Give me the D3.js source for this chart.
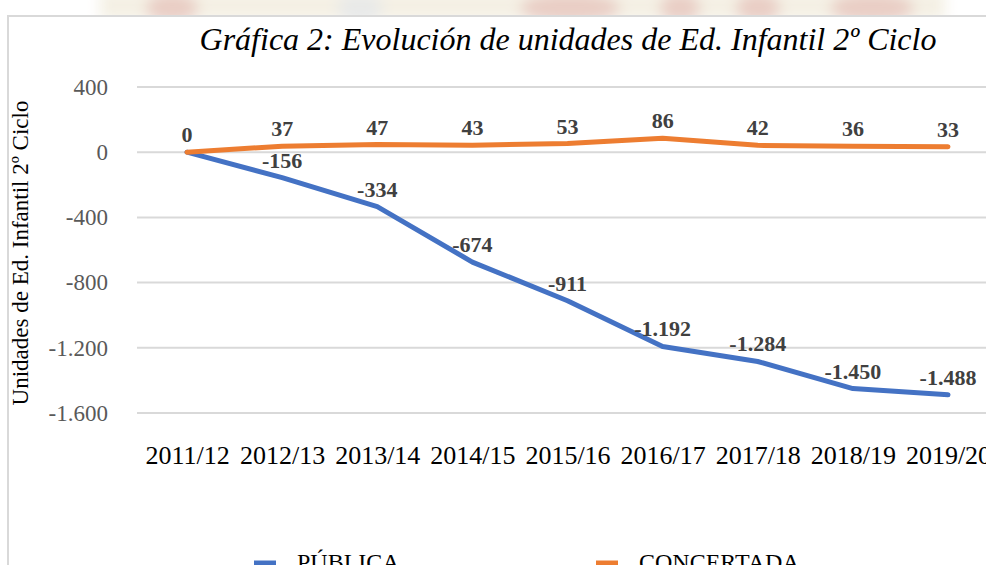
<!DOCTYPE html>
<html>
<head>
<meta charset="utf-8">
<script src="https://cdn.jsdelivr.net/npm/d3@7"></script>
<style>
  body { margin: 0; background: #fff; }
  svg { display: block; }
</style>
</head>
<body>
<div id="chart"></div>
<script>
// data
const courses = ["2011/12", "2012/13", "2013/14", "2014/15", "2015/16", "2016/17", "2017/18", "2018/19", "2019/20"];
const publica = [0, -156, -334, -674, -911, -1192, -1284, -1450, -1488];
const concertada = [0, 37, 47, 43, 53, 86, 42, 36, 33];
const yTicks = [400, 0, -400, -800, -1200, -1600];
const seriesNames = ["PÚBLICA", "CONCERTADA"];
const seriesColors = ["#4472C4", "#ED7D31"];

const width = 986, height = 565;
const serif = "'Liberation Serif', 'Times New Roman', serif";

const svg = d3.select("#chart").append("svg")
    .attr("width", width)
    .attr("height", height);

// faint watermark band above the chart frame
const defs = svg.append("defs");
const blur = defs.append("filter").attr("id", "blur")
    .attr("x", "-50%").attr("y", "-100%").attr("width", "200%").attr("height", "300%");
blur.append("feGaussianBlur").attr("stdDeviation", 7);
const band = svg.append("g").attr("filter", "url(#blur)");
band.append("rect").attr("x", 100).attr("y", -10).attr("width", 845).attr("height", 30).attr("fill", "#f4f0e4");
const blobs = [[172, 26], [570, 50], [680, 20], [758, 22], [872, 42]];
blobs.forEach(([cx, rx]) => {
    band.append("ellipse").attr("cx", cx).attr("cy", 8).attr("rx", rx).attr("ry", 16)
        .attr("fill", "#dba4a0").attr("opacity", 0.45);
});
band.append("ellipse").attr("cx", 360).attr("cy", 8).attr("rx", 22).attr("ry", 16).attr("fill", "#e2e5ea").attr("opacity", 0.7);

// chart frame
svg.append("rect")
    .attr("x", 8).attr("y", 16)
    .attr("width", width + 20).attr("height", height + 20)
    .attr("fill", "#fff")
    .attr("stroke", "#d9d9d9")
    .attr("stroke-width", 2);

const x = d3.scalePoint().domain(courses).range([187, 948]);
const y = d3.scaleLinear().domain([-1600, 400]).range([413, 87]);

const es = d3.formatLocale({ decimal: ",", thousands: ".", grouping: [3], currency: ["", "€"], minus: "-" });
const fmt = es.format(",d");

// gridlines
svg.append("g")
    .selectAll("line")
    .data(yTicks)
    .join("line")
    .attr("x1", 137).attr("x2", width)
    .attr("y1", d => y(d)).attr("y2", d => y(d))
    .attr("stroke", "#d9d9d9")
    .attr("stroke-width", 2);

// y axis labels
const yAxis = svg.append("g")
    .attr("transform", "translate(108,0)")
    .call(d3.axisLeft(y).tickValues(yTicks).tickSize(0).tickPadding(0).tickFormat(fmt));
yAxis.select(".domain").remove();
yAxis.selectAll("text")
    .attr("font-family", serif)
    .attr("font-size", 23)
    .attr("fill", "#595959");

// x axis labels
const xAxis = svg.append("g")
    .attr("transform", "translate(0,464)")
    .call(d3.axisBottom(x).tickSize(0).tickPadding(0));
xAxis.select(".domain").remove();
xAxis.selectAll("text")
    .attr("y", 0)
    .attr("dy", null)
    .attr("font-family", serif)
    .attr("font-size", 26)
    .attr("fill", "#000");

// title
svg.append("text")
    .attr("x", 568).attr("y", 50)
    .attr("text-anchor", "middle")
    .attr("font-family", serif)
    .attr("font-style", "italic")
    .attr("font-size", 32)
    .attr("fill", "#000")
    .text("Gráfica 2: Evolución de unidades de Ed. Infantil 2º Ciclo");

// y axis title
svg.append("text")
    .attr("transform", "translate(28,253) rotate(-90)")
    .attr("text-anchor", "middle")
    .attr("font-family", serif)
    .attr("font-size", 23)
    .attr("fill", "#000")
    .text("Unidades de Ed. Infantil 2º Ciclo");

// lines
const series = [publica, concertada];
const line = d3.line()
    .x((d, i) => x(courses[i]))
    .y(d => y(d));

series.forEach((vals, k) => {
    svg.append("path")
        .datum(vals)
        .attr("d", line)
        .attr("fill", "none")
        .attr("stroke", seriesColors[k])
        .attr("stroke-width", 5)
        .attr("stroke-linejoin", "round")
        .attr("stroke-linecap", "round");
});

// data labels (the shared 0 at the start is shown once)
series.forEach((vals, k) => {
    svg.append("g")
        .selectAll("text")
        .data(vals)
        .join("text")
        .attr("x", (d, i) => x(courses[i]))
        .attr("y", d => y(d) - 10)
        .attr("text-anchor", "middle")
        .attr("font-family", serif)
        .attr("font-weight", "bold")
        .attr("font-size", 22)
        .attr("fill", "#404040")
        .text((d, i) => (k === 0 && i === 0) ? "" : fmt(d));
});

// legend
const legendX = [254, 596];
const legend = svg.append("g")
    .selectAll("g")
    .data(seriesNames)
    .join("g")
    .attr("transform", (d, i) => `translate(${legendX[i]},563)`);
legend.append("line")
    .attr("x1", 0).attr("x2", 22)
    .attr("stroke", (d, i) => seriesColors[i])
    .attr("stroke-width", 5);
legend.append("text")
    .attr("x", 43).attr("y", 7)
    .attr("font-family", serif)
    .attr("font-size", 24)
    .attr("fill", "#000")
    .text(d => d);
</script>
</body>
</html>
